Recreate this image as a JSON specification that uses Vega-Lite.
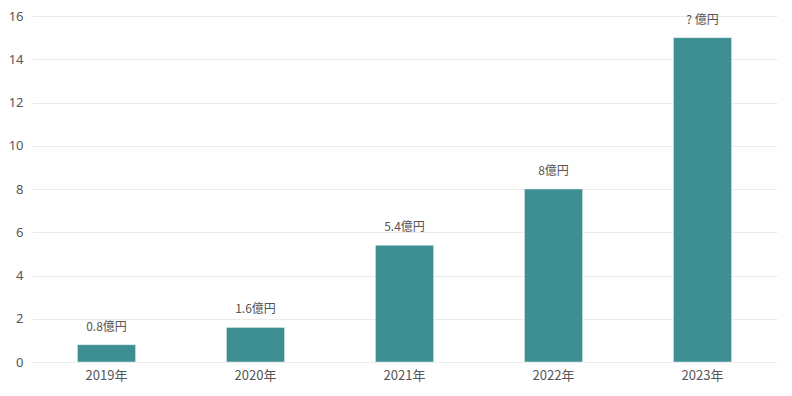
{
  "$schema": "https://vega.github.io/schema/vega-lite/v6.json",
  "width": 745,
  "height": 346,
  "padding": {"left": 8, "top": 10, "right": 14, "bottom": 10},
  "background": "white",
  "data": {"values": [
    {"year": "2019年", "value": 0.8, "label": "0.8億円"},
    {"year": "2020年", "value": 1.6, "label": "1.6億円"},
    {"year": "2021年", "value": 5.4, "label": "5.4億円"},
    {"year": "2022年", "value": 8, "label": "8億円"},
    {"year": "2023年", "value": 15, "label": "? 億円"}
  ]},
  "encoding": {
    "x": {"field": "year", "type": "nominal", "sort": null,
      "scale": {"paddingInner": 0.61, "paddingOuter": 0.305},
      "axis": {"title": null, "labelAngle": 0, "ticks": false, "domain": false, "labelPadding": 7,
        "labelFont": "Noto Sans CJK SC", "labelFontSize": 13, "labelColor": "#555555"}},
    "y": {"field": "value", "type": "quantitative",
      "scale": {"domain": [0, 16]},
      "axis": {"title": null, "tickCount": 8, "ticks": false, "domain": false, "labelPadding": 9,
        "gridColor": "#ebebeb", "labelFont": "Noto Sans", "labelFontSize": 13, "labelColor": "#555555"}}
  },
  "layer": [
    {"mark": {"type": "bar", "color": "#3d8f93", "stroke": "#e8f2f2", "strokeWidth": 0.5}},
    {"mark": {"type": "text", "dy": -11, "baseline": "bottom", "font": "Noto Sans CJK SC", "fontSize": 12, "color": "#555555"},
      "encoding": {"text": {"field": "label"}}}
  ],
  "config": {"view": {"stroke": null}}
}
